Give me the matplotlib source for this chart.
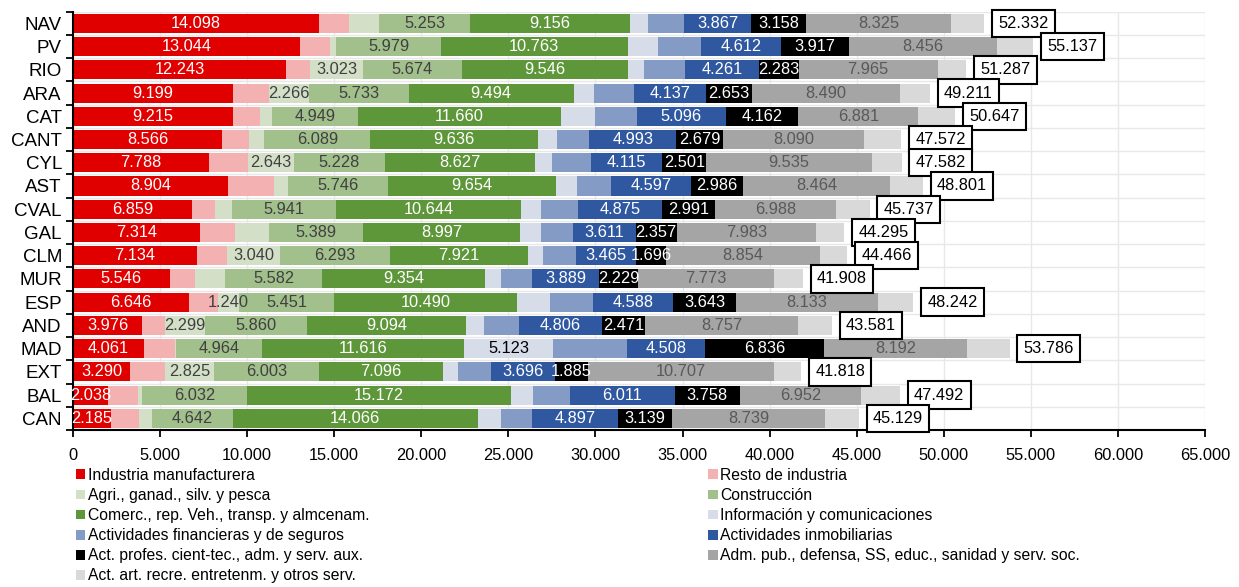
import matplotlib
matplotlib.use('Agg')
import matplotlib.pyplot as plt
import numpy as np

plt.rcParams['font.family'] = ['Liberation Sans', 'DejaVu Sans']

regions = ['NAV', 'PV', 'RIO', 'ARA', 'CAT', 'CANT', 'CYL', 'AST', 'CVAL',
           'GAL', 'CLM', 'MUR', 'ESP', 'AND', 'MAD', 'EXT', 'BAL', 'CAN']

industria = [14098, 13044, 12243, 9199, 9215, 8566, 7788, 8904, 6859, 7314, 7134, 5546, 6646, 3976, 4061, 3290, 2038, 2185]
resto_ind = [1730, 1700, 1375, 2068, 1545, 1560, 2241, 2654, 1296, 1970, 1712, 1440, 1655, 1312, 1795, 2005, 1680, 1588]
agri = [1730, 380, 3023, 2266, 646, 855, 2643, 760, 990, 1988, 3040, 1745, 1240, 2299, 30, 2825, 245, 765]
construccion = [5253, 5979, 5674, 5733, 4949, 6089, 5228, 5746, 5941, 5389, 6293, 5582, 5451, 5860, 4964, 6003, 6032, 4642]
comercio = [9156, 10763, 9546, 9494, 11660, 9636, 8627, 9654, 10644, 8997, 7921, 9354, 10490, 9094, 11616, 7096, 15172, 14066]
informacion = [1040, 1735, 900, 1130, 1966, 1065, 978, 1200, 1143, 1204, 890, 905, 1920, 1082, 5123, 895, 1275, 1358]
financieras = [2075, 2445, 2372, 2317, 2405, 1885, 2222, 1965, 2100, 1836, 1884, 1765, 2455, 1962, 4210, 1870, 2095, 1779]
inmobiliarias = [3867, 4612, 4261, 4137, 5096, 4993, 4115, 4597, 4875, 3611, 3465, 3889, 4588, 4806, 4508, 3696, 6011, 4897]
profesionales = [3158, 3917, 2283, 2653, 4162, 2679, 2501, 2986, 2991, 2357, 1696, 2229, 3643, 2471, 6836, 1885, 3758, 3139]
adm_publica = [8325, 8456, 7965, 8490, 6881, 8090, 9535, 8464, 6988, 7983, 8854, 7773, 8133, 8757, 8192, 10707, 6952, 8739]
act_artisticas = [1900, 2106, 1645, 1724, 2122, 2154, 1704, 1871, 1910, 1646, 1577, 1680, 2021, 1962, 2451, 1546, 2234, 1971]

totales = [52332, 55137, 51287, 49211, 50647, 47572, 47582, 48801, 45737, 44295, 44466, 41908, 48242, 43581, 53786, 41818, 47492, 45129]

sectores = ['Industria manufacturera', 'Resto de industria', 'Agri., ganad., silv. y pesca',
            'Construcción', 'Comerc., rep. Veh., transp. y almcenam.', 'Información y comunicaciones',
            'Actividades financieras y de seguros', 'Actividades inmobiliarias',
            'Act. profes. cient-tec., adm. y serv. aux.',
            'Adm. pub., defensa, SS, educ., sanidad y serv. soc.',
            'Act. art. recre. entretenm. y otros serv.']
series = [industria, resto_ind, agri, construccion, comercio, informacion, financieras,
          inmobiliarias, profesionales, adm_publica, act_artisticas]

colores = ['#e00000', '#f4b1b2', '#d3e0c7', '#a2c08c', '#5e973a', '#d6dde9',
           '#839bc5', '#2f58a0', '#000000', '#a5a5a5', '#d9d9d9']
# label colour per sector (None -> no labels)
color_etiqueta = ['white', '#404040', '#404040', '#404040', 'white', 'black',
                  None, 'white', 'white', '#595959', None]
siempre = [0, 3, 4, 7, 8, 9]
extra = {2: ['RIO', 'ARA', 'CYL', 'CLM', 'ESP', 'AND', 'EXT'], 5: ['MAD']}


def fmt(v):
    return '{:,}'.format(v).replace(',', '.')


fig = plt.figure(figsize=(12.39, 5.87), dpi=100)
ax = fig.add_axes([73 / 1239, 1 - 430 / 587, (1205 - 73) / 1239, (430 - 11.7) / 587])

y = np.arange(len(regions))
left = np.zeros(len(regions))
handles = []
for k, (nombre, vals) in enumerate(zip(sectores, series)):
    vals = np.array(vals, dtype=float)
    bars = ax.barh(y, vals, left=left, height=0.82, color=colores[k], label=nombre, zorder=2)
    handles.append(bars)
    if k in siempre or k in extra:
        labels = []
        for i, r in enumerate(regions):
            if k in siempre or r in extra.get(k, []):
                labels.append(fmt(int(vals[i])))
            else:
                labels.append('')
        ax.bar_label(bars, labels=labels, label_type='center', color=color_etiqueta[k],
                     fontsize=11.8, zorder=4)
    left += vals

for i, t in enumerate(totales):
    ax.annotate(fmt(t), xy=(left[i], i), xytext=(14, 0), textcoords='offset pixels',
                ha='left', va='center', fontsize=11.8, color='black',
                bbox=dict(boxstyle='square,pad=0.38', fc='white', ec='black', lw=1.5), zorder=5)

ax.set_xlim(0, 65000)
ax.set_ylim(len(regions) - 0.5, -0.5)
ax.set_xticks(np.arange(0, 65001, 5000))
ax.set_xticklabels([fmt(v) for v in range(0, 65001, 5000)], fontsize=11.8)
ax.set_yticks(y)
ax.set_yticklabels(regions, fontsize=13.5)
ax.set_yticks(np.arange(-0.5, len(regions), 1), minor=True)
ax.tick_params(axis='y', which='major', length=0, pad=8)
ax.tick_params(axis='y', which='minor', length=5, width=1.3, color='black')
ax.tick_params(axis='x', which='major', length=5, width=1.3, pad=8)
ax.grid(axis='x', which='major', color='#e8e8e8', lw=1, zorder=0)
ax.grid(axis='y', which='minor', color='#e8e8e8', lw=1, zorder=0)
ax.spines['top'].set_visible(False)
ax.spines['right'].set_visible(False)
ax.spines['left'].set_linewidth(1.5)
ax.spines['bottom'].set_linewidth(1.5)

orden = [0, 2, 4, 6, 8, 10, 1, 3, 5, 7, 9]
fig.legend([handles[i] for i in orden], [sectores[i] for i in orden], ncol=2,
           loc='upper left', bbox_to_anchor=(76 / 1239, 1 - 468 / 587), frameon=False,
           fontsize=11.3, handlelength=0.6, handleheight=0.6, handletextpad=0.15,
           labelspacing=0.32, columnspacing=21.6, borderpad=0, borderaxespad=0)

fig.savefig('out.png', dpi=100)
